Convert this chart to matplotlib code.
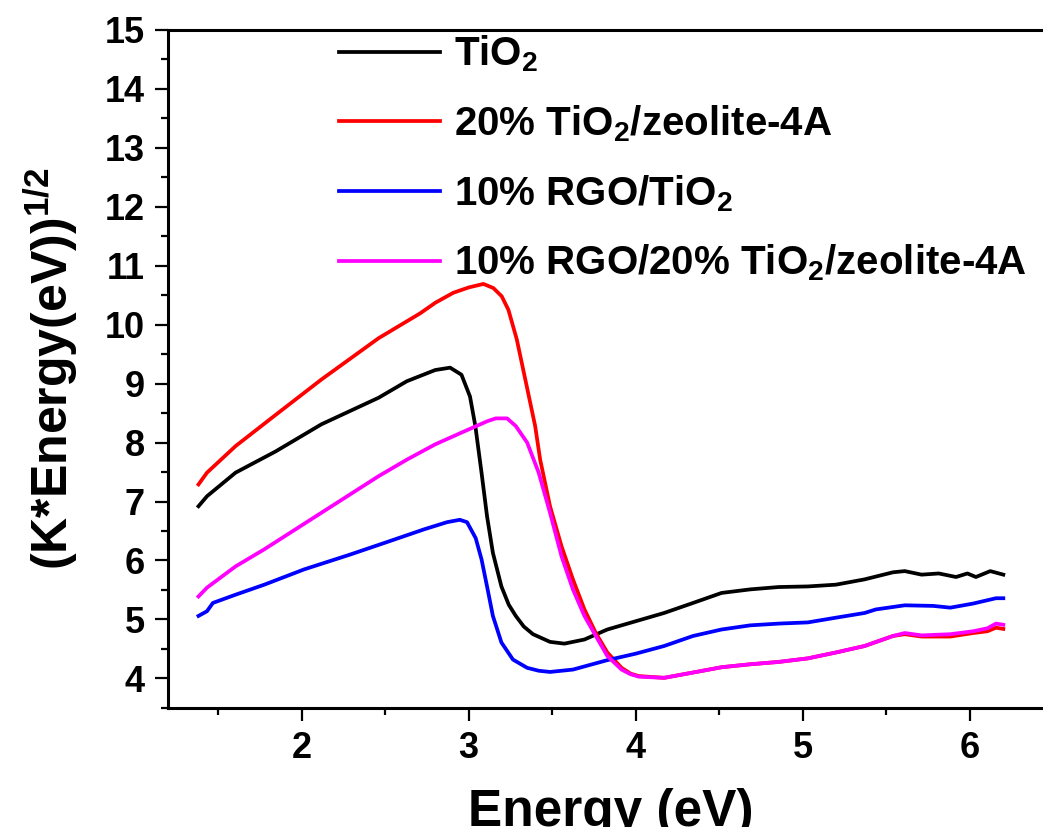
import numpy as np
import matplotlib
matplotlib.use("Agg")
import matplotlib.pyplot as plt
from matplotlib.ticker import MultipleLocator

plt.rcParams['font.family'] = ['Liberation Sans', 'DejaVu Sans']
plt.rcParams['font.weight'] = 'bold'
plt.rcParams['axes.labelweight'] = 'bold'
plt.rcParams['mathtext.fontset'] = 'custom'
plt.rcParams['mathtext.rm'] = 'Liberation Sans:bold'
plt.rcParams['mathtext.it'] = 'Liberation Sans:bold'
plt.rcParams['mathtext.bf'] = 'Liberation Sans:bold'
plt.rcParams['mathtext.default'] = 'rm'

# Tauc plot data, (K*E)^1/2 vs photon energy
e_tio2 = [1.383, 1.434, 1.605, 1.845, 2.119, 2.461, 2.63, 2.80, 2.889, 2.957,
          3.008, 3.04, 3.077, 3.11, 3.145, 3.196, 3.24, 3.282, 3.33, 3.385,
          3.487, 3.573, 3.693, 3.83, 4.0, 4.17, 4.343, 4.514, 4.685, 4.856,
          5.03, 5.198, 5.37, 5.54, 5.61, 5.711, 5.814, 5.917, 5.985, 6.036,
          6.122, 6.20]
k_tio2 = [6.92, 7.09, 7.49, 7.85, 8.31, 8.76, 9.04, 9.23, 9.27, 9.15,
          8.78, 8.28, 7.49, 6.75, 6.13, 5.56, 5.25, 5.06, 4.88, 4.75,
          4.62, 4.59, 4.66, 4.83, 4.97, 5.11, 5.28, 5.45, 5.51, 5.55,
          5.56, 5.59, 5.68, 5.80, 5.82, 5.76, 5.78, 5.72, 5.78, 5.72,
          5.82, 5.76]

e_tz = [1.383, 1.434, 1.605, 1.845, 2.119, 2.461, 2.709, 2.80, 2.908, 3.00,
        3.088, 3.148, 3.198, 3.238, 3.288, 3.348, 3.398, 3.428, 3.487, 3.556,
        3.624, 3.693, 3.761, 3.83, 3.915, 3.97, 4.018, 4.17, 4.343, 4.514,
        4.685, 4.856, 5.03, 5.198, 5.37, 5.54, 5.61, 5.711, 5.883, 6.02,
        6.105, 6.156, 6.20]
k_tz = [7.29, 7.49, 7.94, 8.47, 9.07, 9.77, 10.19, 10.37, 10.54, 10.63,
        10.69, 10.62, 10.48, 10.25, 9.75, 8.95, 8.28, 7.71, 6.92, 6.24,
        5.68, 5.17, 4.77, 4.44, 4.18, 4.08, 4.04, 4.01, 4.10, 4.19,
        4.24, 4.28, 4.34, 4.44, 4.55, 4.72, 4.75, 4.71, 4.71, 4.77,
        4.80, 4.86, 4.84]

e_rgo = [1.383, 1.434, 1.469, 1.605, 1.777, 2.016, 2.29, 2.529, 2.735, 2.871,
         2.947, 2.99, 3.042, 3.077, 3.11, 3.145, 3.196, 3.265, 3.35, 3.42,
         3.487, 3.624, 3.83, 4.0, 4.17, 4.343, 4.514, 4.685, 4.856, 5.03,
         5.198, 5.37, 5.437, 5.61, 5.78, 5.883, 6.02, 6.156, 6.20]
k_rgo = [5.06, 5.14, 5.28, 5.42, 5.59, 5.85, 6.10, 6.33, 6.53, 6.65,
         6.69, 6.65, 6.38, 6.02, 5.56, 5.06, 4.61, 4.32, 4.18, 4.13,
         4.11, 4.15, 4.31, 4.42, 4.55, 4.72, 4.83, 4.90, 4.93, 4.95,
         5.03, 5.11, 5.17, 5.24, 5.23, 5.20, 5.27, 5.36, 5.36]

e_rgo_tz = [1.383, 1.434, 1.605, 1.777, 1.948, 2.119, 2.29, 2.461, 2.63, 2.80,
            2.974, 3.11, 3.162, 3.23, 3.282, 3.35, 3.419, 3.487, 3.556, 3.624,
            3.693, 3.761, 3.83, 3.915, 3.97, 4.018, 4.17, 4.343, 4.514, 4.685,
            4.856, 5.03, 5.198, 5.37, 5.54, 5.61, 5.711, 5.883, 6.02, 6.105,
            6.156, 6.20]
k_rgo_tz = [5.39, 5.54, 5.90, 6.19, 6.50, 6.81, 7.12, 7.43, 7.71, 7.97,
            8.19, 8.36, 8.41, 8.41, 8.28, 8.0, 7.49, 6.81, 6.07, 5.51,
            5.06, 4.72, 4.38, 4.15, 4.07, 4.03, 4.01, 4.10, 4.19, 4.24,
            4.28, 4.34, 4.44, 4.55, 4.72, 4.77, 4.73, 4.75, 4.80, 4.85,
            4.93, 4.91]

labels = [r'TiO$_2$', r'20% TiO$_2$/zeolite-4A', r'10% RGO/TiO$_2$',
          r'10% RGO/20% TiO$_2$/zeolite-4A']
colors = ['black', 'red', 'blue', 'magenta']

fig = plt.figure(figsize=(10.43, 8.27), dpi=100)
ax = fig.add_axes([0.161, 0.144, 0.849, 0.82])

series = [(e_tio2, k_tio2), (e_tz, k_tz), (e_rgo, k_rgo), (e_rgo_tz, k_rgo_tz)]
for (x, y), c, lab in zip(series, colors, labels):
    ax.plot(x, y, color=c, lw=2.7, label=lab)

ax.set_xlim(1.2, 6.5)
ax.set_ylim(3.5, 15)
ax.xaxis.set_major_locator(MultipleLocator(1))
ax.xaxis.set_minor_locator(MultipleLocator(0.5))
ax.yaxis.set_major_locator(MultipleLocator(1))
ax.yaxis.set_minor_locator(MultipleLocator(0.5))
ax.tick_params(which='major', direction='out', length=9.5, width=1.6,
               labelsize=26, pad=7)
ax.tick_params(which='minor', direction='out', length=5, width=1.6)
for s in ax.spines.values():
    s.set_linewidth(2.2)

ax.set_xlabel('Energy (eV)', fontsize=37, labelpad=16)
ax.set_ylabel(r'(K*Energy(eV))$^{1/2}$', fontsize=36, labelpad=17)

ax.legend(loc='upper left', bbox_to_anchor=(0.189, 1.0), frameon=False,
          fontsize=29, handlelength=2.5, handletextpad=0.35,
          labelspacing=0.72, borderpad=0.1, borderaxespad=0)

fig.savefig('out.png', dpi=100)
